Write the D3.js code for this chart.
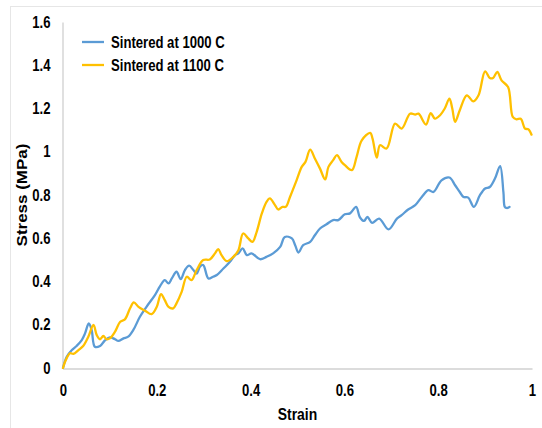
<!DOCTYPE html>
<html>
<head>
<meta charset="utf-8">
<script src="https://cdn.jsdelivr.net/npm/d3@7"></script>
<style>
  html, body { margin: 0; padding: 0; background: #fff; }
  svg text { font-family: "Liberation Sans", Arial, sans-serif; font-weight: bold; fill: #000; }
</style>
</head>
<body>
<div id="chart"></div>
<script>
// series: [strain, stress MPa]
const seriesNames = ['Sintered at 1000 C', 'Sintered at 1100 C'];
const seriesColors = ['#5b9bd5', '#ffc000'];

const sintered1000 = [
  [0, 0], [0.008, 0.052], [0.019, 0.083], [0.029, 0.102], [0.040, 0.129], [0.047, 0.160],
  [0.055, 0.206], [0.061, 0.176], [0.068, 0.098], [0.079, 0.102], [0.090, 0.129], [0.100, 0.142],
  [0.111, 0.133], [0.118, 0.125], [0.129, 0.137], [0.139, 0.145], [0.150, 0.176], [0.164, 0.237],
  [0.178, 0.283], [0.196, 0.337], [0.207, 0.379], [0.217, 0.406], [0.225, 0.391], [0.232, 0.414],
  [0.242, 0.445], [0.251, 0.411], [0.260, 0.453], [0.269, 0.473], [0.278, 0.453], [0.285, 0.437],
  [0.292, 0.468], [0.299, 0.476], [0.310, 0.414], [0.320, 0.422], [0.328, 0.430], [0.342, 0.460],
  [0.356, 0.491], [0.367, 0.522], [0.374, 0.530], [0.383, 0.553], [0.392, 0.522], [0.402, 0.530],
  [0.420, 0.503], [0.434, 0.514], [0.448, 0.530], [0.463, 0.560], [0.473, 0.606], [0.488, 0.599],
  [0.495, 0.568], [0.502, 0.534], [0.512, 0.568], [0.527, 0.583], [0.537, 0.614], [0.548, 0.645],
  [0.562, 0.665], [0.576, 0.684], [0.587, 0.684], [0.601, 0.711], [0.612, 0.715], [0.625, 0.745],
  [0.633, 0.697], [0.642, 0.680], [0.649, 0.699], [0.659, 0.671], [0.674, 0.691], [0.694, 0.641],
  [0.712, 0.691], [0.722, 0.707], [0.736, 0.733], [0.751, 0.753], [0.765, 0.791], [0.779, 0.822],
  [0.790, 0.814], [0.807, 0.868], [0.824, 0.881], [0.836, 0.845], [0.846, 0.814], [0.854, 0.791],
  [0.864, 0.788], [0.876, 0.745], [0.889, 0.799], [0.900, 0.830], [0.910, 0.837], [0.921, 0.876],
  [0.932, 0.934], [0.939, 0.814], [0.942, 0.745], [0.946, 0.740], [0.952, 0.745]
];

const sintered1100 = [
  [0, 0], [0.006, 0.037], [0.015, 0.068], [0.022, 0.065], [0.033, 0.083], [0.043, 0.102],
  [0.054, 0.145], [0.065, 0.199], [0.072, 0.152], [0.079, 0.133], [0.086, 0.148], [0.093, 0.133],
  [0.100, 0.137], [0.111, 0.168], [0.122, 0.214], [0.132, 0.225], [0.143, 0.276], [0.151, 0.303],
  [0.161, 0.283], [0.175, 0.265], [0.189, 0.249], [0.200, 0.283], [0.209, 0.342], [0.217, 0.314],
  [0.225, 0.283], [0.235, 0.276], [0.242, 0.299], [0.253, 0.352], [0.264, 0.422], [0.274, 0.406],
  [0.285, 0.453], [0.299, 0.499], [0.313, 0.502], [0.324, 0.530], [0.331, 0.550], [0.338, 0.522],
  [0.349, 0.494], [0.363, 0.514], [0.374, 0.545], [0.384, 0.622], [0.395, 0.599], [0.404, 0.583],
  [0.413, 0.630], [0.424, 0.715], [0.434, 0.768], [0.441, 0.784], [0.452, 0.753], [0.459, 0.733],
  [0.468, 0.745], [0.475, 0.745], [0.484, 0.791], [0.498, 0.868], [0.509, 0.930], [0.517, 0.953],
  [0.527, 1.010], [0.537, 0.969], [0.548, 0.922], [0.559, 0.872], [0.566, 0.930], [0.576, 0.961],
  [0.584, 0.984], [0.594, 0.953], [0.601, 0.938], [0.616, 0.915], [0.626, 0.976], [0.637, 1.053],
  [0.655, 1.087], [0.660, 1.061], [0.669, 0.973], [0.676, 1.030], [0.690, 1.015], [0.708, 1.130],
  [0.722, 1.107], [0.740, 1.176], [0.751, 1.172], [0.758, 1.176], [0.774, 1.126], [0.784, 1.179],
  [0.793, 1.153], [0.804, 1.169], [0.814, 1.200], [0.824, 1.246], [0.830, 1.200], [0.836, 1.138],
  [0.846, 1.192], [0.861, 1.261], [0.875, 1.233], [0.886, 1.261], [0.900, 1.372], [0.910, 1.341],
  [0.917, 1.341], [0.926, 1.369], [0.935, 1.330], [0.949, 1.299], [0.959, 1.161], [0.967, 1.150],
  [0.976, 1.153], [0.985, 1.107], [0.992, 1.104], [0.999, 1.079]
];

const xTicks = [0, 0.2, 0.4, 0.6, 0.8, 1];
const yTicks = [0, 0.2, 0.4, 0.6, 0.8, 1, 1.2, 1.4, 1.6];

const width = 542, height = 428;
const margin = { top: 22, right: 10, bottom: 60, left: 63 };
const squeeze = 0.82; // the original text is narrow, squeeze glyphs sideways

const svg = d3.select('#chart').append('svg')
  .attr('width', width)
  .attr('height', height);

// light frame round the chart area
svg.append('rect')
  .attr('x', 10.5).attr('y', 6.5)
  .attr('width', 560).attr('height', 440)
  .attr('fill', 'none')
  .attr('stroke', '#e6e6e6');

const x = d3.scaleLinear().domain([0, 1]).range([margin.left, 532]);
const y = d3.scaleLinear().domain([0, 1.6]).range([368, margin.top]);

const xAxis = svg.append('g')
  .attr('transform', `translate(0,${y(0) + 0.5})`)
  .call(d3.axisBottom(x).tickValues(xTicks).tickSize(0).tickPadding(16).tickFormat(d => String(d)));
xAxis.select('.domain').attr('stroke', '#d0d0d0').attr('stroke-width', 1.3);
xAxis.selectAll('text')
  .style('font-size', '16px')
  .attr('transform', `scale(${squeeze},1)`);

const yAxis = svg.append('g')
  .attr('transform', `translate(${x(0) - 0.5},0)`)
  .call(d3.axisLeft(y).tickValues(yTicks).tickSize(0).tickPadding(12).tickFormat(d => String(d)));
yAxis.select('.domain').attr('stroke', '#d0d0d0').attr('stroke-width', 1.3);
yAxis.selectAll('text')
  .style('font-size', '16px')
  .attr('x', -12 / squeeze)
  .attr('transform', `scale(${squeeze},1)`);

svg.append('text')
  .attr('transform', `translate(${(x(0) + x(1)) / 2},420) scale(${squeeze},1)`)
  .attr('text-anchor', 'middle')
  .style('font-size', '17px')
  .text('Strain');

svg.append('text')
  .attr('transform', `translate(27,${(y(0) + y(1.6)) / 2}) rotate(-90) scale(1,${squeeze})`)
  .attr('text-anchor', 'middle')
  .style('font-size', '17px')
  .text('Stress (MPa)');

const line = d3.line()
  .x(d => x(d[0]))
  .y(d => y(d[1]))
  .curve(d3.curveCatmullRom.alpha(0.5));

[sintered1000, sintered1100].forEach((data, i) => {
  svg.append('path')
    .datum(data)
    .attr('fill', 'none')
    .attr('stroke', seriesColors[i])
    .attr('stroke-width', 2.3)
    .attr('stroke-linejoin', 'round')
    .attr('stroke-linecap', 'round')
    .attr('d', line);
});

// legend
const legend = svg.append('g');
seriesNames.forEach((name, i) => {
  const ly = 42 + i * 23;
  legend.append('line')
    .attr('x1', 82).attr('x2', 104)
    .attr('y1', ly).attr('y2', ly)
    .attr('stroke', seriesColors[i])
    .attr('stroke-width', 2.3);
  legend.append('text')
    .attr('transform', `translate(111,${ly + 6}) scale(${squeeze},1)`)
    .style('font-size', '16px')
    .text(name);
});
</script>
</body>
</html>
